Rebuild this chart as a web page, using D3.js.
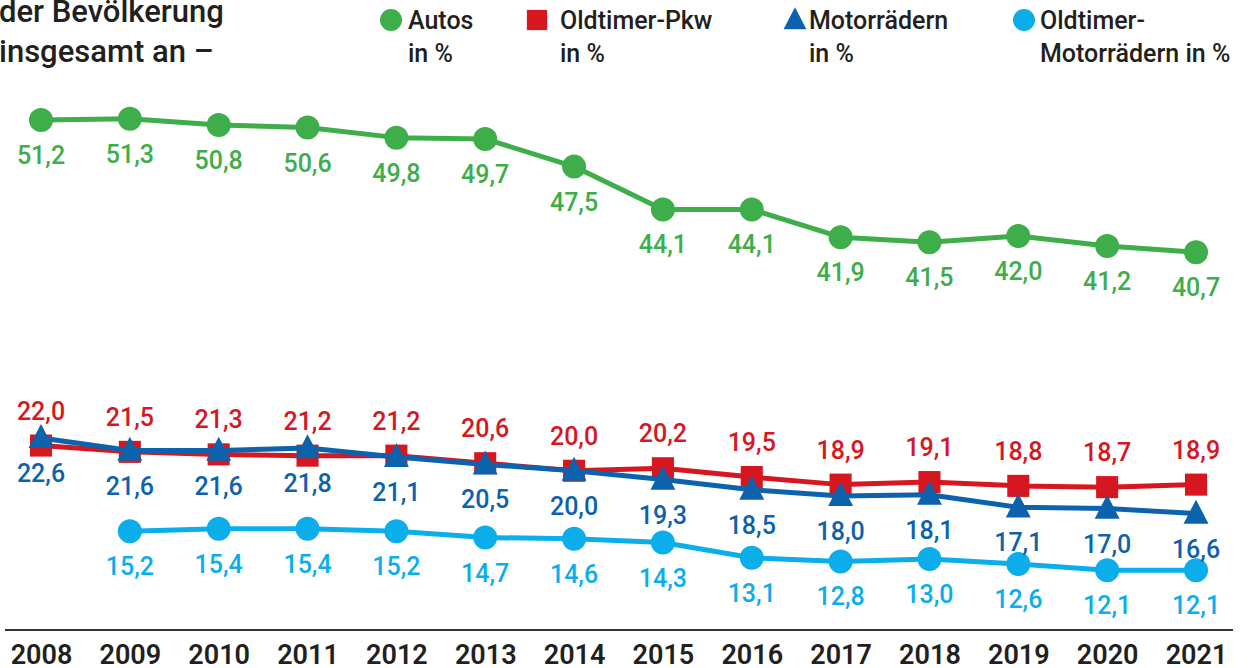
<!DOCTYPE html>
<html>
<head>
<meta charset="utf-8">
<script src="https://cdn.jsdelivr.net/npm/d3@7"></script>
<style>
  body { margin: 0; background: #fff; }
  svg text { font-family: Roboto, "Liberation Sans", sans-serif; }
</style>
</head>
<body>
<div id="chart"></div>
<script>
    var years = ['2008', '2009', '2010', '2011', '2012', '2013', '2014', '2015', '2016', '2017', '2018', '2019', '2020', '2021'];
    var autos = [51.2, 51.3, 50.8, 50.6, 49.8, 49.7, 47.5, 44.1, 44.1, 41.9, 41.5, 42.0, 41.2, 40.7];
    var oldtimerPkw = [22.0, 21.5, 21.3, 21.2, 21.2, 20.6, 20.0, 20.2, 19.5, 18.9, 19.1, 18.8, 18.7, 18.9];
    var motorraeder = [22.6, 21.6, 21.6, 21.8, 21.1, 20.5, 20.0, 19.3, 18.5, 18.0, 18.1, 17.1, 17.0, 16.6];
    var oldtimerMotorraeder = [null, 15.2, 15.4, 15.4, 15.2, 14.7, 14.6, 14.3, 13.1, 12.8, 13.0, 12.6, 12.1, 12.1];

    var titleLines = ['der Bevölkerung', 'insgesamt an –'];

    var series = [
        { name: ['Autos', 'in %'], values: autos, color: '#3dae49', marker: 'circle', label: 'below', legendX: 391, textX: 408 },
        { name: ['Oldtimer-Pkw', 'in %'], values: oldtimerPkw, color: '#d7171f', marker: 'square', label: 'above', legendX: 537, textX: 560 },
        { name: ['Motorrädern', 'in %'], values: motorraeder, color: '#0d62ad', marker: 'triangle', label: 'below', legendX: 795, textX: 809 },
        { name: ['Oldtimer-', 'Motorrädern in %'], values: oldtimerMotorraeder, color: '#0baeea', marker: 'circle', label: 'below', legendX: 1024, textX: 1040 }
    ];

    var width = 1252, height = 668;

    var svg = d3.select('#chart').append('svg')
        .attr('width', width)
        .attr('height', height);

    // x: point scale over years
    var xScale = d3.scalePoint()
        .domain(years)
        .range([41, 1196]);

    // y: broken scale, the gap between ~23 and ~40 is squeezed out
    var pxPerUnit = 12.6;
    var yScale = d3.scaleLinear()
        .domain([10, 23, 40, 52])
        .range([438 + 12.6 * pxPerUnit, 438 - 0.4 * pxPerUnit, 120 + 11.2 * pxPerUnit, 120 - 0.8 * pxPerUnit]);

    var fmt = function (v) { return v.toFixed(1).replace('.', ','); };

    // title (cropped from a bigger graphic)
    svg.append('g').selectAll('text')
        .data(titleLines)
        .enter().append('text')
        .attr('x', -1)
        .attr('y', function (d, i) { return 22 + i * 40; })
        .attr('font-size', 31)
        .attr('font-weight', 500)
        .attr('fill', '#231f20')
        .text(function (d) { return d; });

    // x axis line + year labels
    var xAxis = d3.axisBottom(xScale).tickSize(0).tickPadding(0);
    var axisG = svg.append('g')
        .attr('transform', 'translate(0,630)')
        .call(xAxis);
    axisG.select('.domain')
        .attr('d', 'M5,0H1233')
        .attr('stroke', '#333')
        .attr('stroke-width', 2);
    axisG.selectAll('.tick text')
        .attr('y', 34)
        .attr('dy', 0)
        .attr('font-size', 27)
        .attr('font-weight', 600)
        .attr('fill', '#231f20')
        .style('font-family', 'Roboto, sans-serif');

    var drawMarker = function (sel, type, color, size) {
        if (type === 'circle') {
            sel.append('circle').attr('r', size / 2).attr('fill', color);
        } else if (type === 'square') {
            sel.append('rect')
                .attr('x', -size * 0.46).attr('y', -size * 0.46)
                .attr('width', size * 0.92).attr('height', size * 0.92)
                .attr('fill', color);
        } else {
            sel.append('path')
                .attr('d', 'M0,' + (-size * 0.58) + 'L' + (size * 0.52) + ',' + (size * 0.42) + 'L' + (-size * 0.52) + ',' + (size * 0.42) + 'Z')
                .attr('fill', color);
        }
    };

    var line = d3.line()
        .defined(function (d) { return d.v !== null; })
        .x(function (d) { return xScale(d.year); })
        .y(function (d) { return yScale(d.v); });

    // draw lower series first so that the blue line sits on top of red
    var drawOrder = [series[0], series[3], series[1], series[2]];

    drawOrder.forEach(function (s) {
        var pts = s.values.map(function (v, i) { return { year: years[i], v: v }; });
        var g = svg.append('g');

        g.append('path')
            .datum(pts)
            .attr('d', line)
            .attr('fill', 'none')
            .attr('stroke', s.color)
            .attr('stroke-width', 5)
            .attr('stroke-linejoin', 'round');

        g.selectAll('.marker')
            .data(pts.filter(function (d) { return d.v !== null; }))
            .enter().append('g')
            .attr('class', 'marker')
            .attr('transform', function (d) { return 'translate(' + xScale(d.year) + ',' + yScale(d.v) + ')'; })
            .each(function () { drawMarker(d3.select(this), s.marker, s.color, 24); });
    });

    // value labels on top
    series.forEach(function (s) {
        var pts = s.values.map(function (v, i) { return { year: years[i], v: v }; })
            .filter(function (d) { return d.v !== null; });
        svg.append('g').selectAll('text')
            .data(pts)
            .enter().append('text')
            .attr('x', function (d) { return xScale(d.year); })
            .attr('y', function (d) { return yScale(d.v) + (s.label === 'above' ? -26 : 44); })
            .attr('text-anchor', 'middle')
            .attr('font-size', 25)
            .attr('font-weight', 500)
            .attr('fill', s.color)
            .text(function (d) { return fmt(d.v); });
    });

    // legend
    var legend = svg.append('g');
    series.forEach(function (s) {
        var lg = legend.append('g');
        var m = lg.append('g').attr('transform', 'translate(' + s.legendX + ',20)');
        drawMarker(m, s.marker, s.color, 22);
        lg.selectAll('text')
            .data(s.name)
            .enter().append('text')
            .attr('x', s.textX)
            .attr('y', function (d, i) { return 29 + i * 33; })
            .attr('font-size', 25)
            .attr('font-weight', 500)
            .attr('fill', '#231f20')
            .text(function (d) { return d; });
    });
</script>
</body>
</html>
